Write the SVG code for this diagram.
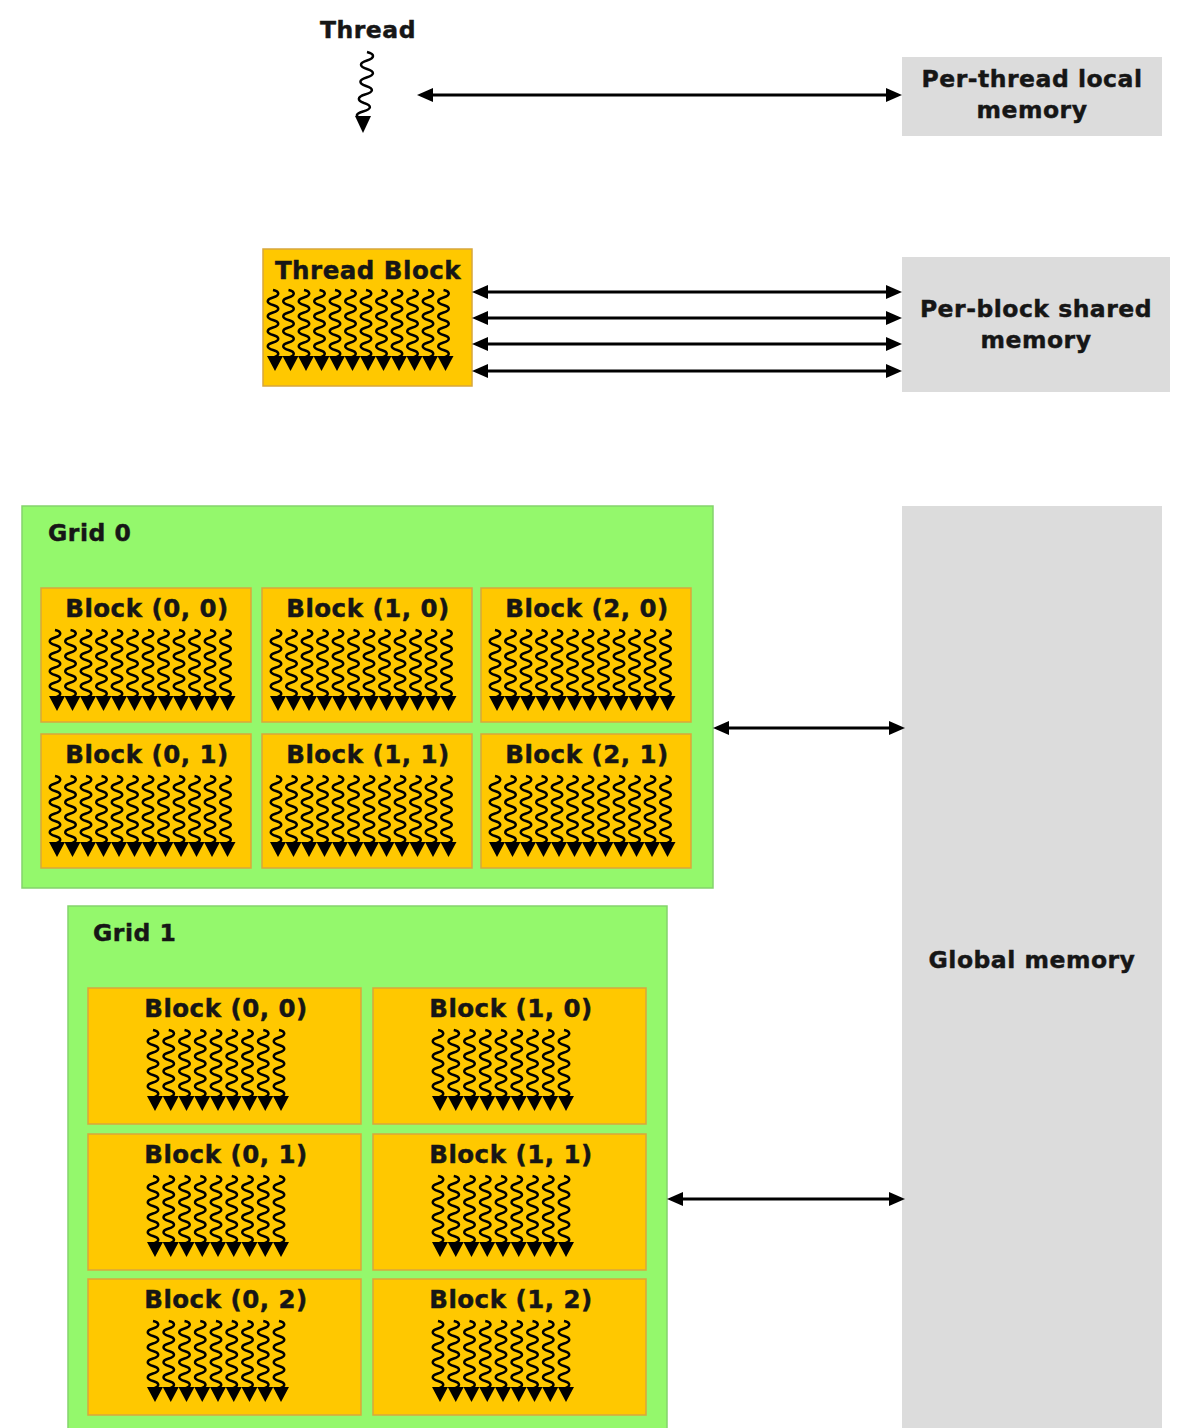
<svg xmlns="http://www.w3.org/2000/svg" width="1182" height="1428" viewBox="0 0 1182 1428">
<style>
.blk{fill:#FFC800;stroke:#D8A73C;stroke-width:1.5}
.grid{fill:#94F86C;stroke:#84D36C;stroke-width:1.5}
.mem{fill:#DCDCDC}
.lbl{font-family:"DejaVu Sans",Verdana,sans-serif;font-weight:bold;font-size:23.5px;letter-spacing:0.5px;fill:#161616;stroke:#161616;stroke-width:0.45px}
.bl{font-size:24.5px;text-anchor:middle}
.c{text-anchor:middle}
.wave{fill:none;stroke:#000;stroke-width:2.5}
.head{fill:#000}
.conn line{stroke:#000;stroke-width:3}
</style>
<defs>
<marker id="ah" markerUnits="userSpaceOnUse" markerWidth="18" markerHeight="14" refX="8" refY="7" orient="auto-start-reverse" viewBox="0 0 18 14">
<path d="M0,0 L16,7 L0,14 z" fill="#000"/>
</marker>
<g id="th">
<path class="wave" d="M-2,0 c7,1.5 7,5.5 0,7.5 c-7,2 -7,5.5 0,7.5 c7,2 7,5.5 0,7.5 c-7,2 -7,5.5 0,7.5 c7,2 7,5.5 0,7.5 c-7,2 -7,5.5 0,7.5 c7,2 7,5.5 0,7.5 c-7,2 -7,5.5 0,7.5 c7,2 7,5.5 0,7.5"/>
<polygon class="head" points="-8,66 8,66 0,81"/>
</g>
<g id="row12">
<use href="#th" x="0"/><use href="#th" x="15.5"/><use href="#th" x="31"/><use href="#th" x="46.5"/><use href="#th" x="62"/><use href="#th" x="77.5"/><use href="#th" x="93"/><use href="#th" x="108.5"/><use href="#th" x="124"/><use href="#th" x="139.5"/><use href="#th" x="155"/><use href="#th" x="170.5"/>
</g>
<g id="row9">
<use href="#th" x="0"/><use href="#th" x="15.75"/><use href="#th" x="31.5"/><use href="#th" x="47.25"/><use href="#th" x="63"/><use href="#th" x="78.75"/><use href="#th" x="94.5"/><use href="#th" x="110.25"/><use href="#th" x="126"/>
</g>
</defs>

<rect width="1182" height="1428" fill="#fff"/>

<g id="thread">
<text class="lbl c" x="368" y="38">Thread</text>
<path class="wave" d="M367,52 c8,2 8,6 0,8.5 c-8,2.5 -8,6 0,8.5 c8,2.5 8,6 -0.5,8.5 c-8,2.5 -8,6 -0.5,8.5 c8,2.5 8,6 -1,8.5 c-8,2.5 -8,6 -1,8.5 c8,2.5 8,6 -1,8.5 c-8,2.5 -8,5 -1,7"/>
<polygon class="head" points="355,116 371,116 363,133"/>
</g>

<g id="per-thread-local-memory">
<rect class="mem" x="902" y="57" width="260" height="79"/>
<text class="lbl c" x="1032" y="87">Per-thread local</text>
<text class="lbl c" x="1032" y="118">memory</text>
</g>

<g id="thread-block">
<rect class="blk" x="263" y="249" width="209" height="137"/>
<text class="lbl bl" x="368" y="279">Thread Block</text>
<use href="#row12" x="275" y="290"/>
</g>

<g id="per-block-shared-memory">
<rect class="mem" x="902" y="257" width="268" height="135"/>
<text class="lbl c" x="1036" y="317">Per-block shared</text>
<text class="lbl c" x="1036" y="348">memory</text>
</g>

<g id="grid0">
<rect class="grid" x="22" y="506" width="691" height="382"/>
<text class="lbl" x="48" y="541">Grid 0</text>
<g id="g0-block-0-0"><rect class="blk" x="41" y="588" width="210" height="134"/><text class="lbl bl" x="147" y="617">Block (0, 0)</text><use href="#row12" x="57" y="630"/></g>
<g id="g0-block-1-0"><rect class="blk" x="262" y="588" width="210" height="134"/><text class="lbl bl" x="368" y="617">Block (1, 0)</text><use href="#row12" x="278" y="630"/></g>
<g id="g0-block-2-0"><rect class="blk" x="481" y="588" width="210" height="134"/><text class="lbl bl" x="587" y="617">Block (2, 0)</text><use href="#row12" x="497" y="630"/></g>
<g id="g0-block-0-1"><rect class="blk" x="41" y="734" width="210" height="134"/><text class="lbl bl" x="147" y="763">Block (0, 1)</text><use href="#row12" x="57" y="776"/></g>
<g id="g0-block-1-1"><rect class="blk" x="262" y="734" width="210" height="134"/><text class="lbl bl" x="368" y="763">Block (1, 1)</text><use href="#row12" x="278" y="776"/></g>
<g id="g0-block-2-1"><rect class="blk" x="481" y="734" width="210" height="134"/><text class="lbl bl" x="587" y="763">Block (2, 1)</text><use href="#row12" x="497" y="776"/></g>
</g>

<g id="grid1">
<rect class="grid" x="68" y="906" width="599" height="540"/>
<text class="lbl" x="93" y="941">Grid 1</text>
<g id="g1-block-0-0"><rect class="blk" x="88" y="988" width="273" height="136"/><text class="lbl bl" x="226" y="1017">Block (0, 0)</text><use href="#row9" x="155" y="1030"/></g>
<g id="g1-block-1-0"><rect class="blk" x="373" y="988" width="273" height="136"/><text class="lbl bl" x="511" y="1017">Block (1, 0)</text><use href="#row9" x="440" y="1030"/></g>
<g id="g1-block-0-1"><rect class="blk" x="88" y="1134" width="273" height="136"/><text class="lbl bl" x="226" y="1163">Block (0, 1)</text><use href="#row9" x="155" y="1176"/></g>
<g id="g1-block-1-1"><rect class="blk" x="373" y="1134" width="273" height="136"/><text class="lbl bl" x="511" y="1163">Block (1, 1)</text><use href="#row9" x="440" y="1176"/></g>
<g id="g1-block-0-2"><rect class="blk" x="88" y="1279" width="273" height="136"/><text class="lbl bl" x="226" y="1308">Block (0, 2)</text><use href="#row9" x="155" y="1321"/></g>
<g id="g1-block-1-2"><rect class="blk" x="373" y="1279" width="273" height="136"/><text class="lbl bl" x="511" y="1308">Block (1, 2)</text><use href="#row9" x="440" y="1321"/></g>
</g>

<g id="global-memory">
<rect class="mem" x="902" y="506" width="260" height="930"/>
<text class="lbl c" x="1032" y="968">Global memory</text>
</g>

<g id="connectors" class="conn">
<line x1="425" y1="95" x2="894" y2="95" marker-start="url(#ah)" marker-end="url(#ah)"/>
<line x1="480" y1="292" x2="894" y2="292" marker-start="url(#ah)" marker-end="url(#ah)"/>
<line x1="480" y1="318" x2="894" y2="318" marker-start="url(#ah)" marker-end="url(#ah)"/>
<line x1="480" y1="344" x2="894" y2="344" marker-start="url(#ah)" marker-end="url(#ah)"/>
<line x1="480" y1="371" x2="894" y2="371" marker-start="url(#ah)" marker-end="url(#ah)"/>
<line x1="721" y1="728" x2="897" y2="728" marker-start="url(#ah)" marker-end="url(#ah)"/>
<line x1="675" y1="1199" x2="897" y2="1199" marker-start="url(#ah)" marker-end="url(#ah)"/>
</g>
</svg>
